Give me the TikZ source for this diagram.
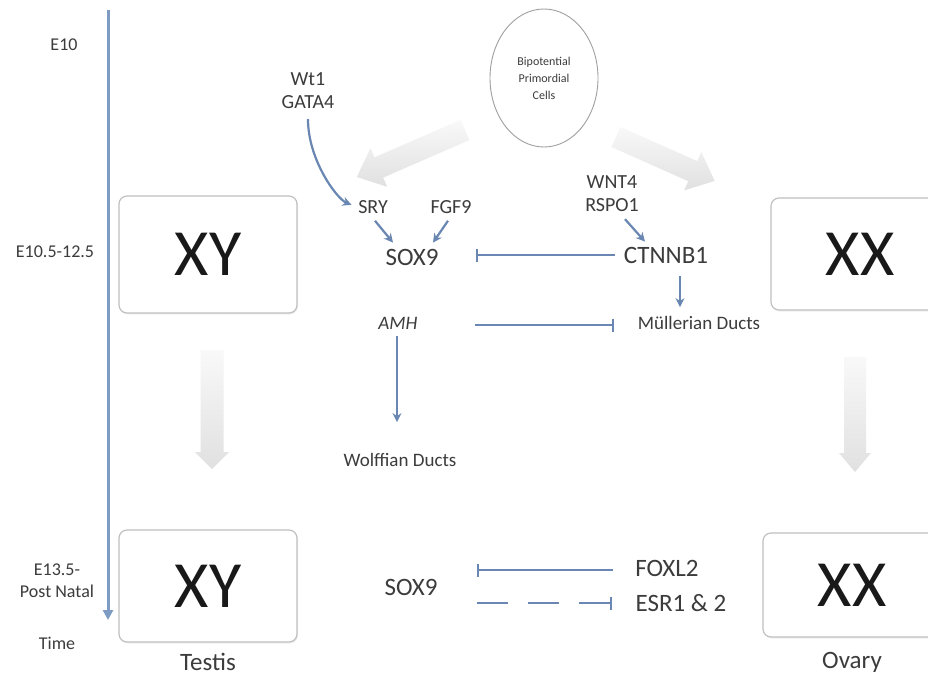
\documentclass[tikz,border=0pt]{standalone}
\usepackage{fontspec}
\setmainfont{Carlito}
\usetikzlibrary{arrows.meta,shapes.geometric,calc,shadows}
\definecolor{conn}{RGB}{105,135,178}
\definecolor{timec}{RGB}{125,155,195}
\definecolor{txt}{RGB}{60,60,60}
\definecolor{boxc}{RGB}{192,192,192}
\begin{document}
\begin{tikzpicture}[x=1pt,y=-1pt,
  lab/.style={text=txt, inner sep=1pt, align=center},
  gene/.style={lab, font=\fontsize{20}{23}\selectfont},
  bigtxt/.style={lab, font=\fontsize{25}{27}\selectfont},
  smalltxt/.style={lab, font=\fontsize{19}{22}\selectfont},
  tlab/.style={lab, font=\fontsize{18}{22}\selectfont},
  sexbox/.style={draw=boxc, line width=1.2pt, rounded corners=8pt, fill=white,
    minimum width=178pt, text={black!90}, font=\fontsize{66}{66}\selectfont,
    drop shadow={opacity=0.12, shadow xshift=1pt, shadow yshift=-1.5pt}},
  act/.style={draw=conn, line width=2.2pt, -{Stealth[length=9pt,width=9pt]}},
  inh/.style={draw=conn, line width=2.2pt, -{Bar[width=13pt,line width=2pt]}},
  blockarrow/.style={draw=none, top color=gray!5, bottom color=gray!24},
]
\clip (0,0) rectangle (928,675);
\fill[white] (0,0) rectangle (928,675);

% grey block arrows
\shade[blockarrow] (200.5,350) -- (223.5,350) -- (223.5,452) -- (229,452) -- (212,469) -- (195,452) -- (200.5,452) -- cycle;
\shade[blockarrow] (844,357) -- (866,357) -- (866,453) -- (871,453) -- (855,472) -- (839,453) -- (844,453) -- cycle;
\begin{scope}[shift={(465,130)}, rotate=203.5]
  \shade[blockarrow] (0,-11) -- (94,-11) -- (94,-21) -- (118,0) -- (94,21) -- (94,11) -- (0,11) -- cycle;
\end{scope}
\begin{scope}[shift={(616,137)}, rotate=-24]
  \shade[blockarrow] (0,-11) -- (84,-11) -- (84,-21) -- (108,0) -- (84,21) -- (84,11) -- (0,11) -- cycle;
\end{scope}

% time axis
\coordinate (t0) at (108,10);
\coordinate (t1) at (108,620);
\draw[timec, line width=3pt, -{Triangle[length=10pt,width=10pt]}] (t0) -- (t1);
\node[tlab] (e10) at (64,45) {E10};
\node[tlab] (e105) at (55,252) {E10.5-12.5};
\node[tlab] (e135) at (57,581) {E13.5-\\Post Natal};
\node[tlab] (time) at (57,643) {Time};

% boxes
\node[sexbox, minimum height=117pt] (xy1) at (208,254.5) {XY};
\node[sexbox, minimum height=112pt] (xy2) at (208,586) {XY};
\node[sexbox, minimum height=112pt] (xx1) at (860,254) {XX};
\node[sexbox, minimum height=104pt] (xx2) at (852,585) {XX};
\node[bigtxt] (testis) at (208,662) {Testis};
\node[bigtxt] (ovary) at (852,662) {Ovary};

% bipotential cells
\node[ellipse, draw=gray!75, line width=0.9pt, minimum width=108pt, minimum height=138pt,
  inner sep=0pt, text=txt, align=center, font=\fontsize{12}{17}\selectfont] (bpc) at (544,78)
  {Bipotential\\Primordial\\Cells};

% genes
\node[gene] (wt1) at (308,91) {Wt1\\GATA4};
\node[gene] (sry) at (373,207) {SRY};
\node[gene] (fgf9) at (451,207) {FGF9};
\node[bigtxt] (sox9) at (412,257) {SOX9};
\node[gene] (wnt4) at (612,194) {WNT4\\RSPO1};
\node[bigtxt] (ctnnb1) at (666,255) {CTNNB1};
\node[lab, font=\fontsize{19}{22}\selectfont\itshape] (amh) at (398,323) {AMH};
\node[smalltxt] (mull) at (699,323) {Müllerian Ducts};
\node[smalltxt] (wolff) at (400,460) {Wolffian Ducts};
\node[bigtxt] (sox9b) at (411,587) {SOX9};
\node[bigtxt] (foxl2) at (667,568) {FOXL2};
\node[bigtxt] (esr) at (681,603) {ESR1 \& 2};

% connectors
\draw[act, shorten <=9pt, shorten >=6pt] (wt1.south) .. controls +(0,50) and +(-20,-8) .. (sry.west);
\draw[act] ($(sry.south)+(2,6)$) -- ($(sox9.north)+(-19,-5)$);
\draw[act] ($(fgf9.south)+(-3,6)$) -- ($(sox9.north)+(21,-5)$);
\draw[act] ($(wnt4.south)+(13,6)$) -- ($(ctnnb1.north)+(-21,-4)$);
\draw[inh] ($(ctnnb1.west)+(-8,0)$) -- ($(ctnnb1.west -| sox9.east)+(36,0)$);
\draw[act] ($(ctnnb1.south)+(14,12)$) -- ($(mull.north)+(-19,-8)$);
\draw[inh] ($(amh.east)+(56,2)$) -- ($(amh.east -| mull.west)+(-23,2)$);
\draw[act] ($(amh.south)+(-1,6)$) -- ($(wolff.north)+(-3,-30)$);
\draw[inh] ($(foxl2.west)+(-21,2)$) -- ($(foxl2.west -| sox9b.east)+(38,2)$);
\draw[inh, dash pattern=on 31pt off 20pt] ($(esr.west -| sox9b.east)+(38,0)$) -- ($(esr.west)+(-22,0)$);
\end{tikzpicture}
\end{document}
